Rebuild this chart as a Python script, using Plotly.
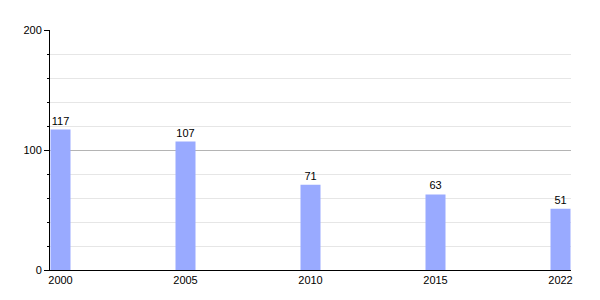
import plotly.graph_objects as go

years = ["2000", "2005", "2010", "2015", "2022"]
values = [117, 107, 71, 63, 51]

fig = go.Figure()
fig.add_trace(go.Bar(
    x=years, y=values,
    width=0.16,
    marker=dict(color="#99aaff", line=dict(width=0)),
    text=[str(v) for v in values],
    textposition="outside",
    textfont=dict(family="Liberation Sans, Arial, sans-serif", size=11, color="#000"),
    cliponaxis=False,
))

fig.update_layout(
    width=600, height=300,
    margin=dict(l=50, r=29, t=30, b=30),
    paper_bgcolor="white", plot_bgcolor="white",
    showlegend=False,
    font=dict(family="Liberation Sans, Arial, sans-serif", size=11, color="#000"),
    xaxis=dict(
        type="category", range=[-0.084, 4.084],
        showline=True, linecolor="#000", linewidth=1,
        showgrid=False, ticks="", ticklen=0,
        tickfont=dict(size=11),
    ),
    yaxis=dict(
        range=[0, 200], dtick=100, tick0=0,
        showline=True, linecolor="#000", linewidth=1,
        ticks="outside", ticklen=5, tickcolor="#000",
        showgrid=True, gridcolor="#b4b4b4", gridwidth=1,
        zeroline=False,
        minor=dict(dtick=20, ticks="outside", ticklen=2, tickcolor="#000",
                   showgrid=True, gridcolor="#e6e6e6", gridwidth=1),
        tickfont=dict(size=11),
    ),
)

fig.write_html("out.html")
